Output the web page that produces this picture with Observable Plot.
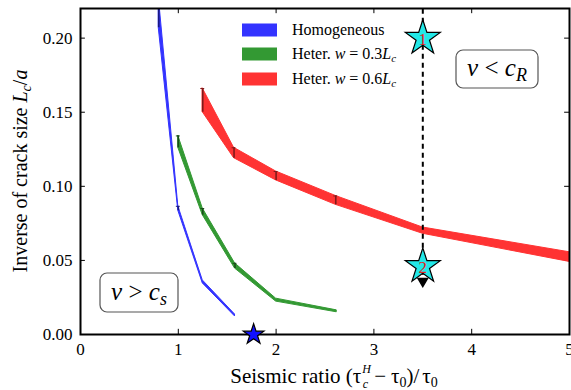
<!DOCTYPE html>
<html>
<head>
<meta charset="utf-8">
<script src="https://cdn.jsdelivr.net/npm/d3@7"></script>
<script src="https://cdn.jsdelivr.net/npm/@observablehq/plot@0.6"></script>
<style>
  html, body { margin: 0; padding: 0; background: #fff; }
  #chart { width: 571px; height: 390px; }
  #chart svg, #chart svg text, #chart svg tspan { font-family: "Liberation Serif", "Times New Roman", serif !important; }
</style>
</head>
<body>
<div id="chart"></div>
<script>
// ---- data ----
const homX  = [0.80, 1.00, 1.25, 1.58];
const homLo = [0.207, 0.0835, 0.0345, 0.0122];
const homHi = [0.228, 0.0865, 0.0365, 0.0135];

const het3X  = [1.00, 1.25, 1.58, 2.00, 2.62];
const het3Lo = [0.126, 0.0805, 0.0445, 0.0222, 0.0150];
const het3Hi = [0.134, 0.0850, 0.0480, 0.0242, 0.0163];

const het6X  = [1.25, 1.57, 2.00, 2.61, 3.50, 5.00];
const het6Lo = [0.150, 0.119, 0.104, 0.0875, 0.0680, 0.0490];
const het6Hi = [0.166, 0.126, 0.110, 0.0935, 0.0722, 0.0555];

const xTicks = [0, 1, 2, 3, 4, 5];
const yTicks = [0.00, 0.05, 0.10, 0.15, 0.20];

const seriesNames = ["Homogeneous", "Heter. w = 0.3Lc", "Heter. w = 0.6Lc"];
const seriesColors = ["#3333ff", "#339933", "#ff3333"];
const barColors = ["#1a1a80", "#1a4d1a", "#801a1a"];

const stars = [{x: 3.5, y: 0.200, label: "1"}, {x: 3.5, y: 0.046, label: "2"}];
const homStar = [{x: 1.77, y: 0.0}];
const thresholdX = 3.5;
const arrowTipY = 0.036;

// ---- build tables ----
function table(xs, lo, hi) { return xs.map((x, i) => ({x, lo: lo[i], hi: hi[i]})); }
const hom = table(homX, homLo, homHi);
const het3 = table(het3X, het3Lo, het3Hi);
const het6 = table(het6X, het6Lo, het6Hi);

const W = 571, H = 390;
const xDom = [0, 5], yDom = [0, 0.22];
const SERIF = "'Liberation Serif', serif";

const bandMarks = (data, i, bars) => [
  Plot.areaY(data, {x: "x", y1: "lo", y2: "hi", fill: seriesColors[i], stroke: seriesColors[i], strokeWidth: 1, clip: true}),
  Plot.ruleX(bars, {x: "x", y1: "lo", y2: "hi", stroke: barColors[i], strokeWidth: 1.6, clip: true}),
  Plot.ruleY(bars, {y: "hi", x1: d => d.x - 0.02, x2: d => d.x + 0.02, stroke: barColors[i], strokeWidth: 1, clip: true}),
];

const svg = Plot.plot({
  width: W, height: H,
  marginLeft: 80, marginRight: 2, marginTop: 8, marginBottom: 56,
  style: "font-family: 'Liberation Serif', serif; background: #fff; color: #000;",
  x: {type: "linear", domain: xDom},
  y: {type: "linear", domain: yDom},
  marks: [
    // inward ticks on all four sides
    Plot.ruleX(xTicks, {x: d => d, y1: () => 0, y2: () => 0.0035, stroke: "#000", strokeWidth: 1}),
    Plot.ruleX(xTicks, {x: d => d, y1: () => 0.22, y2: () => 0.2165, stroke: "#000", strokeWidth: 1}),
    Plot.ruleY(yTicks, {y: d => d, x1: () => 0, x2: () => 0.05, stroke: "#000", strokeWidth: 1}),
    Plot.ruleY(yTicks, {y: d => d, x1: () => 5, x2: () => 4.95, stroke: "#000", strokeWidth: 1}),
    Plot.axisX({ticks: xTicks, tickSize: 0, tickPadding: 8, fontSize: 17, label: null, tickFormat: d3.format("d"), fontFamily: SERIF}),
    Plot.axisY({ticks: yTicks, tickSize: 0, tickPadding: 8, fontSize: 17, label: null, tickFormat: d3.format(".2f"), fontFamily: SERIF}),
    ...bandMarks(hom, 0, hom.slice(0, 2)),
    ...bandMarks(het3, 1, het3.slice(0, 3)),
    ...bandMarks(het6, 2, het6.slice(0, 4)),
    // threshold line with arrow
    Plot.ruleX([thresholdX], {x: d => d, y1: () => arrowTipY + 0.004, y2: () => 0.22, stroke: "#000", strokeWidth: 2, strokeDasharray: "5,4"}),
    Plot.dot([{x: thresholdX, y: arrowTipY}], {x: "x", y: "y", symbol: "triangle", r: 3.5, fill: "#000", stroke: "#000", rotate: 180}),
    Plot.dot(stars, {x: "x", y: "y", symbol: "star", r: 11, fill: "#22e8e8", stroke: "#000", strokeWidth: 1.2}),
    Plot.text(stars, {x: "x", y: "y", text: "label", fill: "#e02020", fontSize: 17, dy: 1, fontFamily: SERIF}),
    Plot.frame({stroke: "#000", strokeWidth: 2}),
    Plot.dot(homStar, {x: "x", y: "y", symbol: "star", r: 6.5, fill: "#1010ff", stroke: "#000", strokeWidth: 1.2}),
  ]
});
document.getElementById("chart").appendChild(svg);

// ---- decorations: axis labels, legend, annotation boxes ----
const s = d3.select(svg);

// y label
const yl = s.append("text")
  .attr("transform", "translate(27,171) rotate(-90)")
  .attr("text-anchor", "middle").attr("font-size", 20).attr("fill", "#000");
yl.append("tspan").text("Inverse of crack size ");
yl.append("tspan").attr("font-style", "italic").text("L");
yl.append("tspan").attr("font-style", "italic").attr("font-size", 14).attr("dy", 4).text("c");
yl.append("tspan").attr("dy", -4).text("/");
yl.append("tspan").attr("font-style", "italic").text("a");

// x label
const xl = s.append("text")
  .attr("x", 334).attr("y", 383)
  .attr("text-anchor", "middle").attr("font-size", 21).attr("fill", "#000");
xl.append("tspan").text("Seismic ratio (τ");
xl.append("tspan").attr("font-size", 12).attr("font-style", "italic").attr("dx", 1).attr("dy", -10).text("H");
xl.append("tspan").attr("font-size", 12).attr("font-style", "italic").attr("dx", -8).attr("dy", 15).text("c");
xl.append("tspan").attr("dx", 6).attr("dy", -5).text("−");
xl.append("tspan").attr("dx", 5).text("τ");
xl.append("tspan").attr("font-size", 14).attr("dy", 4).text("0");
xl.append("tspan").attr("dy", -4).text(")/");
xl.append("tspan").attr("dx", 3).text("τ");
xl.append("tspan").attr("font-size", 14).attr("dy", 4).text("0");

// legend
const legRows = [30, 54, 79];
const lg = s.append("g");
seriesNames.forEach((name, i) => {
  lg.append("rect").attr("x", 242).attr("y", legRows[i] - 6.5).attr("width", 35).attr("height", 13)
    .attr("fill", seriesColors[i]);
  const t = lg.append("text").attr("x", 292).attr("y", legRows[i] + 5)
    .attr("text-anchor", "start").attr("font-size", 16).attr("fill", "#000");
  if (i === 0) { t.text(name); return; }
  t.append("tspan").text("Heter. ");
  t.append("tspan").attr("font-style", "italic").text("w");
  t.append("tspan").text(" = " + (i === 1 ? "0.3" : "0.6"));
  t.append("tspan").attr("font-style", "italic").text("L");
  t.append("tspan").attr("font-style", "italic").attr("font-size", 11).attr("dy", 3).text("c");
});

// annotation boxes
function box(x, y, w, h, sub) {
  const g = s.append("g");
  g.append("rect").attr("x", x).attr("y", y).attr("width", w).attr("height", h)
    .attr("rx", 7).attr("fill", "#fff").attr("stroke", "#555").attr("stroke-width", 1.2);
  const t = g.append("text").attr("x", x + w / 2).attr("y", y + h / 2 + 7)
    .attr("text-anchor", "middle").attr("font-size", 25).attr("fill", "#000");
  t.append("tspan").attr("font-style", "italic").text("v");
  t.append("tspan").text(sub === "R" ? " < " : " > ");
  t.append("tspan").attr("font-style", "italic").text("c");
  t.append("tspan").attr("font-style", "italic").attr("font-size", 18).attr("dy", 5).text(sub);
}
box(456, 50, 82, 38, "R");
box(100, 273, 78, 39, "s");
</script>
</body>
</html>
